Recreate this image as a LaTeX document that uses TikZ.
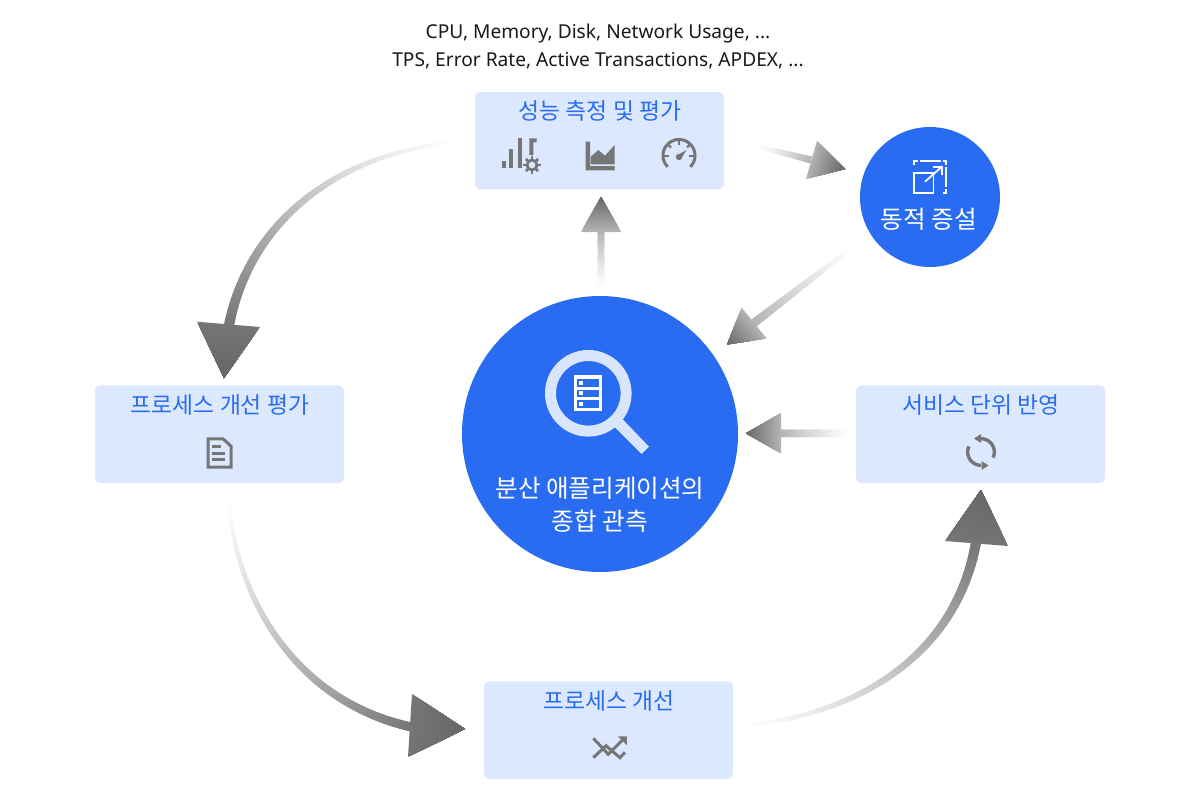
\documentclass[tikz,border=0pt]{standalone}
\usepackage{fontspec}
\setmainfont{Noto Sans}
\newfontfamily\krfont{Noto Sans CJK KR}
\usetikzlibrary{calc}
\definecolor{boxfill}{RGB}{220,232,254}
\definecolor{mainblue}{RGB}{41,108,242}
\definecolor{ringc}{RGB}{217,229,253}
\definecolor{icong}{RGB}{118,118,118}
\definecolor{tipc}{RGB}{102,102,102}
\tikzset{
  x=1pt,y=-1pt,
  stagebox/.style={draw=none,fill=boxfill,rounded corners=5pt,minimum width=249pt,minimum height=97.5pt,inner sep=0pt},
  bluecirc/.style={circle,fill=mainblue,inner sep=0pt},
  boxlabel/.style={inner sep=0pt,text=mainblue,font=\krfont\fontsize{22.8}{26}\selectfont},
  circlabel/.style={inner sep=0pt,text=white,align=center,font=\krfont\fontsize{24.6}{33}\selectfont},
  toplabel/.style={inner sep=0pt,text=black!90,font=\fontsize{19.15}{27}\selectfont},
  icoline/.style={draw=icong,line width=3pt},
  whiteline/.style={draw=white,line width=1.8pt},
}
% gradient arrow: coordinates <p>s,<p>c,<p>d,<p>e (shaft bezier), <p>l,<p>r,<p>t (head)
\newcommand{\gradarrow}[4]{%
  \definecolor{endc}{gray}{#4}%
  \pgfpointanchor{#1s}{center}\pgfgetlastxy{\ax}{\ay}%
  \pgfpointanchor{#1c}{center}\pgfgetlastxy{\bx}{\by}%
  \pgfpointanchor{#1d}{center}\pgfgetlastxy{\cx}{\cy}%
  \pgfpointanchor{#1e}{center}\pgfgetlastxy{\dx}{\dy}%
  \foreach \i in {1,...,60}{%
    \pgfmathsetmacro{\ta}{(\i-1)/60}%
    \pgfmathsetmacro{\tb}{min(1,(\i+1)/60)}%
    \pgfmathsetmacro{\xa}{(1-\ta)^3*\ax+3*(1-\ta)^2*\ta*\bx+3*(1-\ta)*\ta^2*\cx+\ta^3*\dx}%
    \pgfmathsetmacro{\ya}{(1-\ta)^3*\ay+3*(1-\ta)^2*\ta*\by+3*(1-\ta)*\ta^2*\cy+\ta^3*\dy}%
    \pgfmathsetmacro{\xb}{(1-\tb)^3*\ax+3*(1-\tb)^2*\tb*\bx+3*(1-\tb)*\tb^2*\cx+\tb^3*\dx}%
    \pgfmathsetmacro{\yb}{(1-\tb)^3*\ay+3*(1-\tb)^2*\tb*\by+3*(1-\tb)*\tb^2*\cy+\tb^3*\dy}%
    \pgfmathsetmacro{\wd}{#2+(#3-#2)*\ta}%
    \pgfmathsetmacro{\pc}{\i==1 ? 0 : 100*\ta^1.25}%
    \draw[line width=\wd pt,draw=endc!\pc!white] (\xa pt,\ya pt) -- (\xb pt,\yb pt);
  }%
  \foreach \i in {0,...,30}{%
    \pgfmathsetmacro{\sa}{\i/31}%
    \pgfmathsetmacro{\pc}{100*\sa}%
    \fill[tipc!\pc!endc] ($(#1l)!\sa!(#1t)$) -- ($(#1r)!\sa!(#1t)$) -- (#1t) -- cycle;
  }%
}
\begin{document}
\begin{tikzpicture}
\useasboundingbox (0,0) rectangle (1200,798);
\fill[white] (0,0) rectangle (1200,798);

% nodes
\node[stagebox] (perf) at (599.5,140.5) {};
\node[stagebox] (evalp) at (219.5,434) {};
\node[stagebox] (apply) at (980.5,434) {};
\node[stagebox] (impr) at (608.5,730) {};
\node[bluecirc,minimum size=140pt] (scale) at (930,197) {};
\node[bluecirc,minimum size=276pt] (obs) at (600,434) {};

% arrow 1: perf -> evalp
\coordinate (a1s) at ($(perf.west)+(-10,1)$);
\coordinate (a1c) at (340,150);
\coordinate (a1d) at (250,220);
\coordinate (a1e) at (229,325);
\coordinate (a1l) at (197,321.7);
\coordinate (a1r) at (260,327);
\coordinate (a1t) at (224,378);
\gradarrow{a1}{3}{10}{0.46}
% arrow 2: evalp -> impr
\coordinate (a2s) at (228,490);
\coordinate (a2c) at (232,590);
\coordinate (a2d) at (290,700);
\coordinate (a2e) at (411,727);
\coordinate (a2l) at (412,694);
\coordinate (a2r) at (408,757);
\coordinate (a2t) at (465,729);
\gradarrow{a2}{3}{9}{0.46}
% arrow 3: impr -> apply
\coordinate (a3s) at (738,725.5);
\coordinate (a3c) at (850,718);
\coordinate (a3d) at (955,660);
\coordinate (a3e) at (976,543);
\coordinate (a3l) at (945,541);
\coordinate (a3r) at (1008,546);
\coordinate (a3t) at (981,490);
\gradarrow{a3}{3}{10}{0.46}
% arrow 4: perf -> scale
\coordinate (a4s) at (758,146.5);
\coordinate (a4e) at (811,160);
\coordinate (a4c) at ($(a4s)!.33!(a4e)$);
\coordinate (a4d) at ($(a4s)!.67!(a4e)$);
\coordinate (a4l) at (817,141);
\coordinate (a4r) at (806,179);
\coordinate (a4t) at (845,169);
\gradarrow{a4}{4}{7}{0.7}
% arrow 5: scale -> obs
\coordinate (a5s) at (855,245.5);
\coordinate (a5e) at (754,323);
\coordinate (a5c) at ($(a5s)!.33!(a5e)$);
\coordinate (a5d) at ($(a5s)!.67!(a5e)$);
\coordinate (a5l) at (741.7,307.7);
\coordinate (a5r) at (766.7,338.5);
\coordinate (a5t) at (727,344.5);
\gradarrow{a5}{4}{8.5}{0.7}
% arrow 6: obs -> perf
\coordinate (a6s) at (601,288);
\coordinate (a6e) at (601,232);
\coordinate (a6c) at ($(a6s)!.33!(a6e)$);
\coordinate (a6d) at ($(a6s)!.67!(a6e)$);
\coordinate (a6l) at (581,232);
\coordinate (a6r) at (621,232);
\coordinate (a6t) at (601,197);
\gradarrow{a6}{6.6}{6.6}{0.7}
% arrow 7: apply -> obs
\coordinate (a7s) at (852,433.3);
\coordinate (a7e) at (781,433.3);
\coordinate (a7c) at ($(a7s)!.33!(a7e)$);
\coordinate (a7d) at ($(a7s)!.67!(a7e)$);
\coordinate (a7l) at (781,413);
\coordinate (a7r) at (781,453.5);
\coordinate (a7t) at (746,433.3);
\gradarrow{a7}{7.5}{7.5}{0.7}

% labels
\node[toplabel] (t1) at (598,33.5) {CPU, Memory, Disk, Network Usage, ...};
\node[toplabel] (t2) at (598,60.5) {TPS, Error Rate, Active Transactions, APDEX, ...};
\node[boxlabel] (lperf) at (600,111) {성능 측정 및 평가};
\node[boxlabel] (levalp) at (220,405) {프로세스 개선 평가};
\node[boxlabel] (lapply) at (981,405) {서비스 단위 반영};
\node[boxlabel] (limpr) at (609,701) {프로세스 개선};
\node[circlabel] (lscale) at (929,219.5) {동적 증설};
\node[circlabel] (lobs) at (600,505) {분산 애플리케이션의\\종합 관측};

% icon: bars and gear
\fill[icong] (502,161) rectangle (506,168.3);
\fill[icong] (509.3,149) rectangle (513.3,168.3);
\fill[icong] (518,138.3) rectangle (522,168.3);
\fill[icong] (529.3,138.3) -- (536.7,138.3) -- (536.7,142.3) -- (533.3,142.3) -- (533.3,155) -- (529.3,155) -- cycle;
\draw[icoline,line width=2.8pt] (532,165) circle (5pt);
\foreach \ang in {0,45,...,315}{
  \draw[icong,line width=2.6pt] ($(532,165)+(\ang:5.2pt)$) -- ($(532,165)+(\ang:8.6pt)$);
}
% icon: area chart
\fill[icong] (585.7,141.7) -- (590,141.7) -- (590,166) -- (614.7,166) -- (614.7,170.3) -- (585.7,170.3) -- cycle;
\fill[icong] (590.7,164.3) -- (590.7,156.7) -- (598.3,150) -- (605,155.7) -- (614.7,145) -- (614.7,164.3) -- cycle;
% icon: gauge
\draw[icoline] plot[domain=135:405,samples=50] ({679+16*cos(\x)},{155.5+16*sin(\x)});
\draw[icoline,line width=2.2pt] (679,140) -- (679,145);
\draw[icoline,line width=2.2pt] (667.5,144) -- (671,147.5);
\draw[icoline,line width=2.2pt] (690.5,144) -- (687,147.5);
\draw[icoline,line width=2.2pt] (664,156) -- (669,156);
\draw[icoline,line width=2.2pt] (694,156) -- (689,156);
\fill[icong] (679,157) circle (3.2pt);
\fill[icong] (677.5,155) -- (686.5,150) -- (681,159) -- cycle;
% icon: document
\draw[icoline,line join=miter] (208.2,438.8) -- (223,438.8) -- (231.2,446.3) -- (231.2,467.2) -- (208.2,467.2) -- cycle;
\draw[icoline] (212.3,446.5) -- (220.7,446.5);
\draw[icoline] (212.3,453) -- (225,453);
\draw[icoline] (212.3,459) -- (225,459);
% icon: refresh
\draw[icoline,line width=3.4pt] plot[domain=-90:25,samples=24] ({981+13.3*cos(\x)},{452+13.3*sin(\x)});
\draw[icoline,line width=3.4pt] plot[domain=90:205,samples=24] ({981+13.3*cos(\x)},{452+13.3*sin(\x)});
\fill[icong] (974,438.5) -- (981,434) -- (981,443) -- cycle;
\fill[icong] (988.5,465.5) -- (981.5,461) -- (981.5,470) -- cycle;
% icon: trend
\draw[icoline,line join=miter] (593.3,738.3) -- (608.3,754.3) -- (625,737.5);
\draw[icoline,line join=miter] (593.3,757.7) -- (606,745.7) -- (620,757.7) -- (625,752.3);
\fill[icong] (618,736.3) -- (626.8,736.3) -- (626.8,745.3) -- cycle;
% icon: scale
\draw[whiteline] (914,173.3) rectangle (933.5,193);
\draw[whiteline] (914,165) -- (914,161) -- (918,161);
\draw[whiteline] (920,161) -- (940.5,161);
\draw[whiteline] (942.5,161) -- (946,161) -- (946,165);
\draw[whiteline] (946,167) -- (946,187);
\draw[whiteline] (946,189) -- (946,193) -- (942.5,193);
\draw[whiteline] (925,181.7) -- (941,167.5);
\draw[whiteline,line join=miter] (933,167) -- (941.7,167) -- (941.7,175);
% icon: magnifier
\draw[ringc,line width=11pt] (588.3,393.3) circle (37.8pt);
\fill[ringc] (615,427.3) -- (622.7,419.3) -- (649,446.7) -- (641.7,454) -- cycle;
\fill[white] (574,375.3) rectangle (602,410.7);
\foreach \yy in {379,389.5,400.1}{
  \fill[mainblue] (577.3,\yy) rectangle (598.7,\yy+7.6);
  \fill[white] (579.3,\yy+1.8) rectangle (583.3,\yy+5.8);
}
\end{tikzpicture}
\end{document}
